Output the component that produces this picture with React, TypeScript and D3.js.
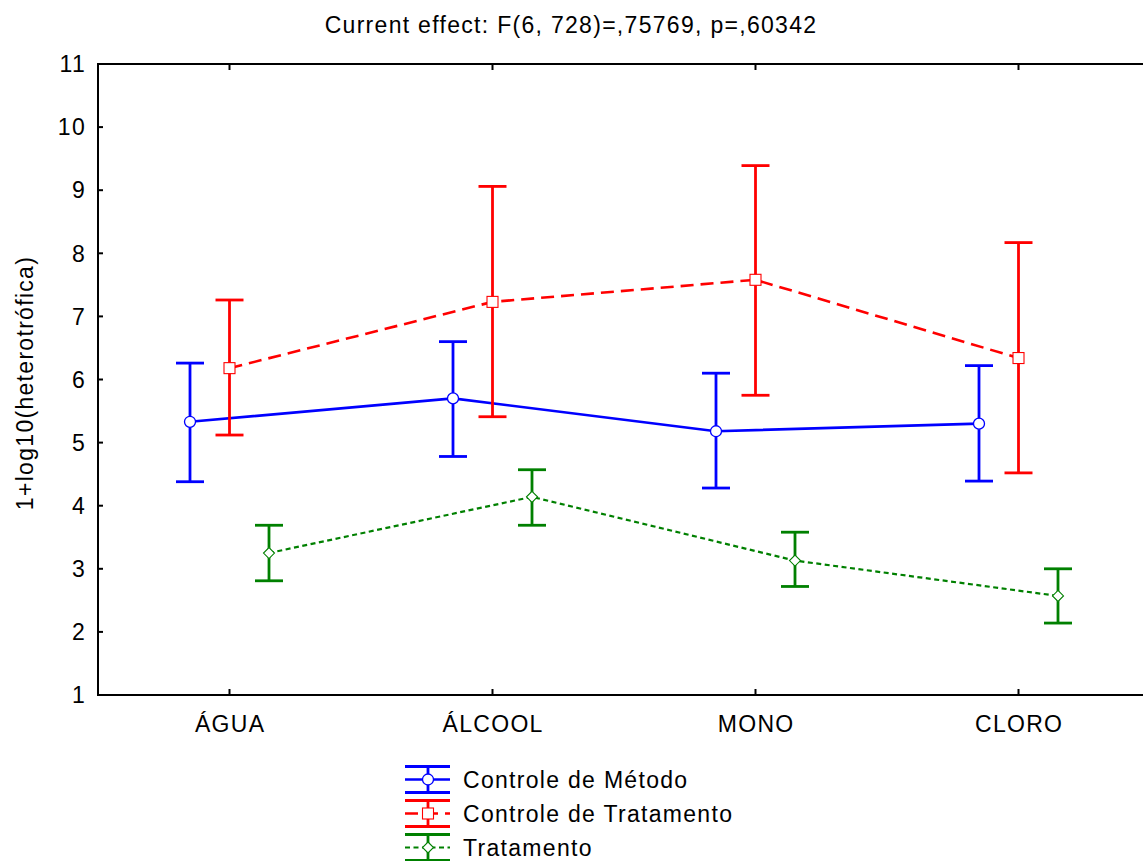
import * as d3 from "d3";

const categories = ["ÁGUA", "ÁLCOOL", "MONO", "CLORO"];
const yTicks = [1, 2, 3, 4, 5, 6, 7, 8, 9, 10, 11];

// médias e limites (IC) por grupo
const metodoMean = [5.33, 5.7, 5.18, 5.3];
const metodoUpper = [6.26, 6.6, 6.1, 6.22];
const metodoLower = [4.38, 4.78, 4.28, 4.39];

const controleMean = [6.18, 7.23, 7.58, 6.34];
const controleUpper = [7.26, 9.06, 9.39, 8.17];
const controleLower = [5.12, 5.41, 5.75, 4.52];

const tratMean = [3.25, 4.14, 3.13, 2.57];
const tratUpper = [3.69, 4.57, 3.58, 3.0];
const tratLower = [2.81, 3.69, 2.72, 2.14];

const title = "Current effect: F(6, 728)=,75769, p=,60342";
const yLabel = "1+log10(heterotrófica)";

type Serie = {
  name: string;
  mean: number[];
  upper: number[];
  lower: number[];
  color: string;
  dash: string | undefined;
  width: number;
  marker: "circle" | "square" | "diamond";
  offset: number;
};

const series: Serie[] = [
  { name: "Controle de Método", mean: metodoMean, upper: metodoUpper, lower: metodoLower, color: "#0000ff", dash: undefined, width: 2.6, marker: "circle", offset: -39.5 },
  { name: "Controle de Tratamento", mean: controleMean, upper: controleUpper, lower: controleLower, color: "#ff0000", dash: "13 7", width: 2.6, marker: "square", offset: 0 },
  { name: "Tratamento", mean: tratMean, upper: tratUpper, lower: tratLower, color: "#008000", dash: "5 3.5", width: 2.2, marker: "diamond", offset: 39.5 },
];

const W = 1143;
const H = 861;
const left = 98;
const top = 64;
const bottom = 695;
const font = "'Liberation Sans', Arial, sans-serif";
const fs = 23;
const ls = 1.3;

function Marker({ kind, x, y, color }: { kind: string; x: number; y: number; color: string }) {
  if (kind === "circle") return <circle cx={x} cy={y} r={5.5} fill="#fff" stroke={color} strokeWidth={1.3} />;
  if (kind === "square") return <rect x={x - 5.5} y={y - 5.5} width={11} height={11} fill="#fff" stroke={color} strokeWidth={1.1} />;
  const s = 5.5;
  return <path d={`M${x},${y - s}L${x + s},${y}L${x},${y + s}L${x - s},${y}Z`} fill="#fff" stroke={color} strokeWidth={1.1} />;
}

export default function App() {
  const x = d3.scalePoint<string>().domain(categories).range([left, 1150]).padding(0.5);
  const y = d3.scaleLinear().domain([1, 11]).range([bottom, top]);
  const line = d3.line<[number, number]>().x((d) => d[0]).y((d) => d[1]);
  const cap = 14;

  return (
    <div style={{ position: "fixed", left: 0, top: 0 }}>
      <svg width={W} height={H} style={{ display: "block", background: "#fff" }} fontFamily={font}>
        <text x={571} y={33} textAnchor="middle" fontSize={fs} letterSpacing={ls}>{title}</text>

        {/* eixos */}
        <line x1={left} x2={W} y1={top} y2={top} stroke="#000" strokeWidth={2} />
        <line x1={left} x2={W} y1={bottom} y2={bottom} stroke="#000" strokeWidth={2} />
        <line x1={left} x2={left} y1={top - 1} y2={bottom + 1} stroke="#000" strokeWidth={2} />
        {yTicks.map((t) => (
          <g key={t}>
            <line x1={left} x2={left + 5} y1={y(t)} y2={y(t)} stroke="#000" strokeWidth={2} />
            <text x={86} y={y(t)} dy="0.36em" textAnchor="end" fontSize={fs} letterSpacing={ls}>{t}</text>
          </g>
        ))}
        {categories.map((c) => (
          <g key={c}>
            <line x1={x(c)} x2={x(c)} y1={bottom} y2={bottom - 6} stroke="#000" strokeWidth={2} />
            <line x1={x(c)} x2={x(c)} y1={top} y2={top + 6} stroke="#000" strokeWidth={2} />
            <text x={(x(c) ?? 0) + ls / 2} y={732} textAnchor="middle" fontSize={fs} letterSpacing={ls}>{c}</text>
          </g>
        ))}
        <text transform={`translate(32.5,383) rotate(-90)`} textAnchor="middle" fontSize={fs} letterSpacing={ls}>{yLabel}</text>

        {/* séries */}
        {series.map((s) => {
          const pts = categories.map((c, i) => [(x(c) ?? 0) + s.offset, y(s.mean[i])] as [number, number]);
          return (
            <g key={s.name}>
              {categories.map((c, i) => {
                const cx = (x(c) ?? 0) + s.offset;
                return (
                  <g key={c} stroke={s.color} strokeWidth={2.8}>
                    <line x1={cx} x2={cx} y1={y(s.upper[i])} y2={y(s.lower[i])} />
                    <line x1={cx - cap} x2={cx + cap} y1={y(s.upper[i])} y2={y(s.upper[i])} />
                    <line x1={cx - cap} x2={cx + cap} y1={y(s.lower[i])} y2={y(s.lower[i])} />
                  </g>
                );
              })}
              <path d={line(pts) ?? ""} fill="none" stroke={s.color} strokeWidth={s.width} strokeDasharray={s.dash} />
              {pts.map((p, i) => (
                <Marker key={i} kind={s.marker} x={p[0]} y={p[1]} color={s.color} />
              ))}
            </g>
          );
        })}

        {/* legenda */}
        {series.map((s, i) => {
          const cy = 779.5 + i * 34;
          return (
            <g key={s.name}>
              <g stroke={s.color} strokeWidth={2.8}>
                <line x1={405} x2={450} y1={cy - 13} y2={cy - 13} />
                <line x1={405} x2={450} y1={cy + 13} y2={cy + 13} />
                <line x1={428} x2={428} y1={cy - 13} y2={cy + 13} />
              </g>
              <line x1={405} x2={450} y1={cy} y2={cy} stroke={s.color} strokeWidth={s.width} strokeDasharray={s.dash} />
              <Marker kind={s.marker} x={428} y={cy} color={s.color} />
              <text x={463} y={cy + 8} fontSize={fs} letterSpacing={ls}>{s.name}</text>
            </g>
          );
        })}
      </svg>
    </div>
  );
}
